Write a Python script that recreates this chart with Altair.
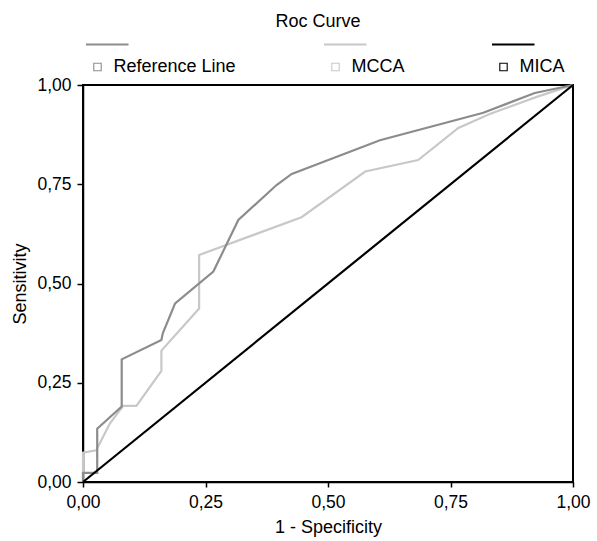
import altair as alt
import pandas as pd

# ---- data ----
series_names = ["Reference Line", "MCCA", "MICA"]
series_colors = ["#8c8c8c", "#c8c8c8", "#000000"]

ref_x = [0, 0, 0.029, 0.029, 0.079, 0.079, 0.160, 0.163, 0.188, 0.266, 0.317, 0.395, 0.426, 0.606, 0.817, 0.922, 1.0]
ref_y = [0, 0.023, 0.023, 0.134, 0.190, 0.309, 0.358, 0.375, 0.450, 0.530, 0.660, 0.748, 0.776, 0.861, 0.930, 0.980, 1.0]

mcca_x = [0, 0, 0.027, 0.055, 0.082, 0.109, 0.160, 0.160, 0.237, 0.237, 0.446, 0.576, 0.684, 0.766, 0.830, 0.926, 1.0]
mcca_y = [0, 0.074, 0.080, 0.148, 0.192, 0.192, 0.280, 0.331, 0.437, 0.572, 0.667, 0.782, 0.811, 0.892, 0.927, 0.970, 1.0]

mica_x = [0, 1.0]
mica_y = [0, 1.0]

tick_values = [0, 0.25, 0.5, 0.75, 1.0]
chart_title = "Roc Curve"
x_title = "1 - Specificity"
y_title = "Sensitivity"

rows = []
for name, xs, ys in [("MCCA", mcca_x, mcca_y), ("Reference Line", ref_x, ref_y), ("MICA", mica_x, mica_y)]:
    for i, (a, b) in enumerate(zip(xs, ys)):
        rows.append({"series": name, "fpr": a, "tpr": b, "idx": i})
df = pd.DataFrame(rows)

FONT = "Liberation Sans"
FS = 18
TICK_FS = 17.5

# custom legend symbol: a thick line above a hollow square (units: 1 = 5px)
legend_symbol = (
    "M-2.3,-4.6H6.2 M-2.3,-4.4H6.2 "
    "M-0.74,-0.74H0.74V0.74H-0.74Z"
)

label_expr = "replace(format(datum.value, '.2f'), '.', ',')"

chart = (
    alt.Chart(df)
    .mark_line(strokeWidth=2.2)
    .encode(
        x=alt.X(
            "fpr:Q",
            title=x_title,
            scale=alt.Scale(domain=[0, 1], nice=False, zero=False),
            axis=alt.Axis(values=tick_values, labelExpr=label_expr, grid=False,
                          tickSize=5, tickColor="black", domainColor="black",
                          domainWidth=1.5, tickWidth=1.5, labelPadding=6,
                          titlePadding=8, labelFlush=False),
        ),
        y=alt.Y(
            "tpr:Q",
            title=y_title,
            scale=alt.Scale(domain=[0, 1], nice=False, zero=False),
            axis=alt.Axis(values=tick_values, labelExpr=label_expr, grid=False,
                          tickSize=6, tickColor="black", domainColor="black",
                          domainWidth=1.5, tickWidth=1.5, labelPadding=6,
                          titlePadding=7, labelFlush=False),
        ),
        color=alt.Color(
            "series:N",
            scale=alt.Scale(domain=series_names, range=series_colors),
            sort=series_names,
            legend=alt.Legend(
                title=None,
                orient="none",
                direction="horizontal",
                legendX=5.5,
                legendY=-27,
                padding=0,
                symbolType=legend_symbol,
                symbolSize=100,
                symbolStrokeWidth=1.1,
                symbolFillColor="transparent",
                labelOffset=7,
                columnPadding=85,
                labelFontSize=FS,
                labelFont=FONT,
                labelColor="black",
                labelLimit=300,
            ),
        ),
        order=alt.Order("idx:Q"),
        detail="series:N",
    )
    .properties(
        width=490,
        height=397,
        padding={"left": 83, "top": 85, "right": 24, "bottom": 59},
        autosize=alt.AutoSizeParams(type="none"),
        title=alt.TitleParams(chart_title, anchor="middle", frame="group", dx=-10,
                              fontSize=FS, fontWeight="normal", font=FONT,
                              color="black", offset=27),
    )
    .configure_view(stroke="black", strokeWidth=2)
    .configure_axis(labelFont=FONT, titleFont=FONT, labelFontSize=TICK_FS,
                    titleFontSize=FS, titleFontWeight="normal",
                    labelColor="black", titleColor="black")
)

chart.save("out.html", embed_options={"renderer": "svg", "actions": False})
